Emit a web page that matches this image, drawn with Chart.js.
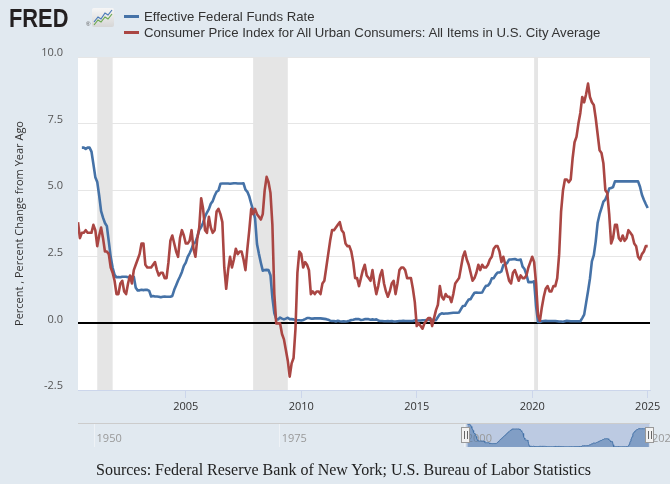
<!DOCTYPE html>
<html>
<head>
<meta charset="utf-8">
<script src="https://cdn.jsdelivr.net/npm/chart.js@4.4.1/dist/chart.umd.min.js"></script>
<style>
  body { margin: 0; background: #e1e9f0; }
  #wrap { position: relative; width: 670px; height: 484px; overflow: hidden; font-family: "Liberation Sans", Arial, sans-serif; }
  canvas { position: absolute; left: 0; top: 0; }
  #logo { position: absolute; left: 9px; top: 3px; font-size: 26px; font-weight: bold; color: #231f20; transform: scaleX(0.84); transform-origin: left top; }
  #reg { position: absolute; left: 86px; top: 21px; font-size: 6px; color: #555; }
  #icon { position: absolute; left: 92px; top: 8px; }
  #legend { position: absolute; left: 124px; top: 9px; font-size: 13.2px; color: #333; line-height: 16px; }
  .item { position: relative; padding-left: 20px; white-space: nowrap; }
  .swatch { position: absolute; left: 0; top: 6px; width: 15px; height: 3px; }
  #sources { position: absolute; left: 96px; top: 461px; font-family: "Liberation Serif", serif; font-size: 16px; color: #222; white-space: nowrap; }
</style>
</head>
<body>
<div id="wrap">
  <canvas id="fredChart" width="670" height="484"></canvas>
  <canvas id="navChart" width="670" height="484"></canvas>
  <div id="logo">FRED</div>
  <div id="reg">®</div>
  <svg id="icon" width="22" height="19">
    <defs><linearGradient id="g" x1="0" y1="0" x2="0" y2="1"><stop offset="0" stop-color="#f6f6f6"/><stop offset="1" stop-color="#d6d6d6"/></linearGradient></defs>
    <rect width="22" height="19" rx="2" fill="url(#g)"/>
    <polyline points="2,14 6,9 9,11 13,5 16,7 20,2" fill="none" stroke="#4a7ab8" stroke-width="1.2"/>
    <polyline points="2,17 6,12 9,14 13,9 16,11 20,6" fill="none" stroke="#6aa84f" stroke-width="1.2"/>
  </svg>
  <div id="legend">
    <div class="item"><span class="swatch" style="background:#4572a7"></span>Effective Federal Funds Rate</div>
    <div class="item"><span class="swatch" style="background:#aa4643"></span>Consumer Price Index for All Urban Consumers: All Items in U.S. City Average</div>
  </div>
  <div id="sources">Sources: Federal Reserve Bank of New York; U.S. Bureau of Labor Statistics</div>
</div>
<script>
// monthly observations, first one is May 2000, last one is Jan 2025
const startYear = 2000;
const startMonth = 5;

const fedFunds = [
  null, null, 6.6, 6.6, 6.55, 6.6, 6.6, 6.45,
  5.98, 5.49, 5.31, 4.80, 4.21, 3.97, 3.77, 3.65, 3.07, 2.49, 2.09, 1.82,
  1.73, 1.74, 1.73, 1.75, 1.75, 1.75, 1.73, 1.74, 1.75, 1.75, 1.34, 1.24,
  1.24, 1.26, 1.25, 1.26, 1.26, 1.22, 1.01, 1.03, 1.01, 1.01, 1.00, 0.98,
  1.00, 1.01, 1.00, 1.00, 1.00, 1.03, 1.26, 1.43, 1.61, 1.76, 1.93, 2.16,
  2.28, 2.50, 2.63, 2.79, 3.00, 3.04, 3.26, 3.50, 3.62, 3.78, 4.00, 4.16,
  4.29, 4.49, 4.59, 4.79, 4.94, 4.99, 5.24, 5.25, 5.25, 5.25, 5.25, 5.24,
  5.25, 5.26, 5.26, 5.25, 5.25, 5.25, 5.26, 5.02, 4.94, 4.76, 4.49, 4.24,
  3.94, 2.98, 2.61, 2.28, 1.98, 2.00, 2.01, 2.00, 1.81, 0.97, 0.39, 0.16,
  0.15, 0.22, 0.18, 0.15, 0.18, 0.21, 0.16, 0.16, 0.15, 0.12, 0.12, 0.12,
  0.11, 0.13, 0.16, 0.20, 0.20, 0.18, 0.18, 0.19, 0.19, 0.19, 0.19, 0.18,
  0.17, 0.16, 0.14, 0.10, 0.09, 0.09, 0.07, 0.10, 0.08, 0.07, 0.08, 0.07,
  0.08, 0.10, 0.13, 0.14, 0.16, 0.16, 0.16, 0.13, 0.14, 0.16, 0.16, 0.16,
  0.14, 0.15, 0.14, 0.15, 0.11, 0.09, 0.09, 0.08, 0.08, 0.09, 0.08, 0.09,
  0.07, 0.07, 0.08, 0.09, 0.09, 0.10, 0.09, 0.09, 0.09, 0.09, 0.09, 0.12,
  0.11, 0.11, 0.11, 0.12, 0.12, 0.13, 0.13, 0.14, 0.14, 0.12, 0.12, 0.24,
  0.34, 0.38, 0.36, 0.37, 0.37, 0.38, 0.39, 0.40, 0.40, 0.40, 0.41, 0.54,
  0.65, 0.66, 0.79, 0.90, 0.91, 1.04, 1.15, 1.16, 1.15, 1.15, 1.16, 1.30,
  1.41, 1.42, 1.51, 1.69, 1.70, 1.82, 1.91, 1.91, 1.95, 2.19, 2.20, 2.27,
  2.40, 2.40, 2.41, 2.42, 2.39, 2.38, 2.40, 2.13, 2.04, 1.83, 1.55, 1.55,
  1.55, 1.58, 0.65, 0.05, 0.05, 0.08, 0.09, 0.10, 0.09, 0.09, 0.09, 0.09,
  0.09, 0.08, 0.07, 0.07, 0.06, 0.08, 0.10, 0.09, 0.08, 0.08, 0.08, 0.08,
  0.08, 0.08, 0.20, 0.33, 0.77, 1.21, 1.68, 2.33, 2.56, 3.08, 3.78, 4.10,
  4.33, 4.57, 4.65, 4.83, 5.06, 5.08, 5.12, 5.33, 5.33, 5.33, 5.33, 5.33,
  5.33, 5.33, 5.33, 5.33, 5.33, 5.33, 5.33, 5.33, 5.13, 4.83, 4.64, 4.48,
  4.33
];

const cpiChange = [
  3.8, 3.2, 3.4, 3.4, 3.5, 3.4, 3.4, 3.4,
  3.7, 3.5, 2.9, 3.3, 3.6, 3.2, 2.7, 2.7, 2.6, 2.1, 1.9, 1.6,
  1.1, 1.1, 1.5, 1.6, 1.2, 1.1, 1.5, 1.8, 1.5, 2.0, 2.2, 2.4,
  2.6, 3.0, 3.0, 2.2, 2.1, 2.1, 2.1, 2.2, 2.3, 2.0, 1.8, 1.9,
  1.9, 1.7, 1.7, 2.3, 3.1, 3.3, 3.0, 2.7, 2.5, 3.2, 3.5, 3.3,
  3.0, 3.0, 3.1, 3.5, 2.8, 2.5, 3.2, 3.6, 4.7, 4.3, 3.5, 3.4,
  4.0, 3.6, 3.4, 3.5, 4.2, 4.3, 4.1, 3.8, 2.1, 1.3, 2.0, 2.5,
  2.1, 2.4, 2.8, 2.6, 2.7, 2.7, 2.4, 2.0, 2.8, 3.5, 4.3, 4.1,
  4.3, 4.1, 4.0, 3.9, 4.1, 5.0, 5.5, 5.3, 4.9, 3.7, 1.1, 0.0,
  0.0, 0.0, -0.4, -0.6, -1.0, -1.4, -2.0, -1.5, -1.3, -0.2, 1.9, 2.7,
  2.6, 2.1, 2.3, 2.2, 2.0, 1.1, 1.2, 1.1, 1.2, 1.2, 1.1, 1.5,
  1.6, 2.1, 2.6, 3.1, 3.5, 3.5, 3.6, 3.7, 3.8, 3.5, 3.4, 3.0,
  2.9, 2.9, 2.7, 2.3, 1.7, 1.7, 1.4, 1.7, 2.0, 2.2, 1.8, 1.7,
  1.6, 2.0, 1.5, 1.1, 1.4, 1.8, 2.0, 1.5, 1.2, 1.0, 1.2, 1.5,
  1.6, 1.1, 1.5, 2.0, 2.1, 2.1, 2.0, 1.7, 1.7, 1.7, 1.3, 0.8,
  -0.1, 0.0, -0.1, -0.2, 0.0, 0.1, 0.2, 0.2, -0.1, 0.2, 0.5, 0.7,
  1.4, 1.0, 0.9, 1.1, 1.0, 1.0, 0.8, 1.1, 1.5, 1.6, 1.7, 2.1,
  2.5, 2.7, 2.4, 2.2, 1.9, 1.6, 1.7, 1.9, 2.2, 2.0, 2.2, 2.1,
  2.1, 2.2, 2.4, 2.5, 2.8, 2.9, 2.9, 2.7, 2.3, 2.5, 2.2, 1.9,
  1.6, 1.5, 1.9, 2.0, 1.8, 1.6, 1.8, 1.7, 1.7, 1.8, 2.1, 2.3,
  2.5, 2.3, 1.5, 0.3, 0.1, 0.6, 1.0, 1.3, 1.4, 1.2, 1.2, 1.4,
  1.4, 1.7, 2.6, 4.2, 5.0, 5.4, 5.4, 5.3, 5.4, 6.2, 6.8, 7.0,
  7.5, 7.9, 8.5, 8.3, 8.6, 9.0, 8.5, 8.3, 8.2, 7.7, 7.1, 6.5,
  6.4, 6.0, 5.0, 4.9, 4.1, 3.0, 3.2, 3.7, 3.7, 3.2, 3.1, 3.3,
  3.1, 3.2, 3.5, 3.4, 3.3, 3.0, 2.9, 2.5, 2.4, 2.6, 2.7, 2.9,
  2.9
];

const xTicks = [2005, 2010, 2015, 2020, 2025];
const yTicks = [-2.5, 0, 2.5, 5, 7.5, 10];
const navTicks = [1950, 1975, 2000, 2025];
const recessions = [['2001-03', '2001-11'], ['2007-12', '2009-06'], ['2020-02', '2020-04']];

function monthToYear(i) { return startYear + (startMonth - 1 + i) / 12; }
function dateToYear(s) { const [y, m] = s.split('-').map(Number); return y + (m - 1) / 12; }
const toPoints = arr => arr.map((v, i) => ({ x: monthToYear(i), y: v }));

const xMin = monthToYear(0);
const xMax = 2025.1;

const plotDecor = {
  id: 'plotDecor',
  beforeDraw(chart) {
    const { ctx, chartArea: a } = chart;
    ctx.save();
    ctx.fillStyle = '#ffffff';
    ctx.fillRect(a.left, a.top, a.right - a.left, a.bottom - a.top);
    ctx.restore();
  },
  beforeDatasetsDraw(chart) {
    const { ctx, chartArea: a, scales: { x, y } } = chart;
    ctx.save();
    ctx.fillStyle = '#e5e5e5';
    recessions.forEach(([s, e]) => {
      const x0 = x.getPixelForValue(dateToYear(s));
      const x1 = x.getPixelForValue(dateToYear(e));
      ctx.fillRect(x0, a.top, x1 - x0, a.bottom - a.top);
    });
    const y0 = Math.round(y.getPixelForValue(0));
    ctx.strokeStyle = '#000';
    ctx.lineWidth = 2;
    ctx.beginPath();
    ctx.moveTo(a.left, y0);
    ctx.lineTo(a.right, y0);
    ctx.stroke();
    ctx.restore();
  }
};

new Chart(document.getElementById('fredChart'), {
  type: 'line',
  data: {
    datasets: [
      {
        label: 'Effective Federal Funds Rate',
        data: toPoints(fedFunds),
        borderColor: '#4572a7',
        borderWidth: 2.6,
        pointRadius: 0,
        borderJoinStyle: 'round',
        order: 1
      },
      {
        label: 'Consumer Price Index for All Urban Consumers: All Items in U.S. City Average',
        data: toPoints(cpiChange),
        borderColor: '#aa4643',
        borderWidth: 2.6,
        pointRadius: 0,
        borderJoinStyle: 'round',
        order: 0
      }
    ]
  },
  options: {
    responsive: false,
    animation: false,
    devicePixelRatio: 1,
    layout: { padding: { left: 0, right: 20, top: 57, bottom: 64 } },
    plugins: { legend: { display: false }, tooltip: { enabled: false } },
    scales: {
      x: {
        type: 'linear',
        min: xMin,
        max: xMax,
        afterBuildTicks: s => { s.ticks = xTicks.map(v => ({ value: v })); },
        afterFit: s => { s.height = 30; },
        ticks: {
          callback: v => String(v),
          font: { family: 'Open Sans', size: 11 },
          color: '#333',
          padding: 2,
          maxRotation: 0,
          autoSkip: false
        },
        grid: { drawOnChartArea: false, drawTicks: true, tickLength: 8, color: '#ccd6eb' },
        border: { color: '#ccd6eb' }
      },
      y: {
        min: -2.5,
        max: 10,
        afterBuildTicks: s => { s.ticks = yTicks.map(v => ({ value: v })); },
        afterFit: s => { s.width = 78; },
        ticks: {
          callback: v => v.toFixed(1),
          font: { family: 'Open Sans', size: 11 },
          color: '#555',
          padding: 15,
          labelOffset: -4
        },
        grid: {
          drawTicks: false,
          color: c => (c.tick && c.tick.value === 0) ? 'rgba(0,0,0,0)' : '#e6e6e6'
        },
        border: { display: false },
        title: {
          display: true,
          text: 'Percent , Percent Change from Year Ago',
          font: { family: 'Open Sans', size: 11 },
          color: '#333',
          padding: { top: 13, bottom: 0 }
        }
      }
    }
  },
  plugins: [plotDecor]
});

// navigator strip under the main chart
const navDecor = {
  id: 'navDecor',
  beforeDatasetsDraw(chart) {
    const { ctx, chartArea: a, scales: { x } } = chart;
    ctx.save();
    ctx.strokeStyle = '#eef2f6';
    ctx.lineWidth = 1;
    navTicks.forEach(t => {
      const px = Math.round(x.getPixelForValue(t)) + 0.5;
      ctx.beginPath(); ctx.moveTo(px, a.top); ctx.lineTo(px, a.bottom); ctx.stroke();
    });
    const s0 = x.getPixelForValue(xMin), s1 = x.getPixelForValue(xMax);
    ctx.fillStyle = 'rgba(102,133,194,0.3)';
    ctx.fillRect(s0, a.top, s1 - s0, a.bottom - a.top);
    ctx.strokeStyle = '#cccccc';
    ctx.beginPath(); ctx.moveTo(a.left, a.top + 0.5); ctx.lineTo(a.right, a.top + 0.5); ctx.stroke();
    ctx.fillStyle = '#999';
    ctx.font = '11px "Open Sans"';
    ctx.textBaseline = 'middle';
    ctx.textAlign = 'left';
    navTicks.forEach(t => ctx.fillText(String(t), x.getPixelForValue(t) + 3, a.top + 16));
    ctx.restore();
  },
  afterDatasetsDraw(chart) {
    const { ctx, chartArea: a, scales: { x } } = chart;
    ctx.save();
    [xMin, xMax].forEach(v => {
      const px = Math.round(x.getPixelForValue(v));
      ctx.fillStyle = '#f2f2f2';
      ctx.strokeStyle = '#999';
      ctx.lineWidth = 1;
      ctx.fillRect(px - 4.5, a.top + 4.5, 8, 15);
      ctx.strokeRect(px - 4.5, a.top + 4.5, 8, 15);
      ctx.strokeStyle = '#666';
      ctx.beginPath();
      ctx.moveTo(px - 1.5, a.top + 8); ctx.lineTo(px - 1.5, a.top + 16);
      ctx.moveTo(px + 1.5, a.top + 8); ctx.lineTo(px + 1.5, a.top + 16);
      ctx.stroke();
    });
    ctx.restore();
  }
};

new Chart(document.getElementById('navChart'), {
  type: 'line',
  data: {
    datasets: [{
      data: toPoints(fedFunds),
      borderColor: '#4572a7',
      borderWidth: 1,
      backgroundColor: 'rgba(69,114,167,0.5)',
      fill: 'origin',
      pointRadius: 0
    }]
  },
  options: {
    responsive: false,
    animation: false,
    devicePixelRatio: 1,
    layout: { padding: { left: 78, right: 20, top: 423, bottom: 37 } },
    plugins: { legend: { display: false }, tooltip: { enabled: false } },
    scales: {
      x: { type: 'linear', min: 1947.9, max: 2025.15, display: false },
      y: { min: 0, max: 7, display: false }
    }
  },
  plugins: [navDecor]
});
</script>
</body>
</html>
